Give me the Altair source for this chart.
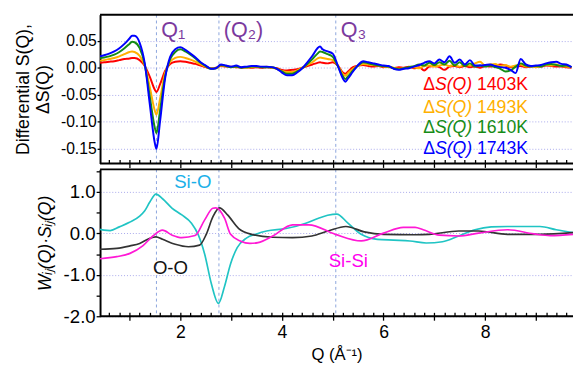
import altair as alt
import pandas as pd

# ---------------- top panel data: differential S(Q) ----------------
q_top = [0.42, 0.5, 0.6, 0.7, 0.8, 0.9, 1.0,
         1.05, 1.1, 1.2, 1.3, 1.4, 1.5, 1.53, 1.6, 1.7, 1.8, 1.9, 2.0,
         2.1, 2.2, 2.3, 2.4, 2.5, 2.6, 2.7, 2.8, 2.9, 3.0,
         3.1, 3.2, 3.3, 3.4, 3.5, 3.6, 3.7, 3.8, 3.9, 4.0,
         4.1, 4.2, 4.3, 4.4, 4.5, 4.6, 4.7, 4.75, 4.8, 4.9, 5.0,
         5.1, 5.2, 5.25, 5.3, 5.4, 5.5, 5.6, 5.7, 5.8, 5.9, 6.0,
         6.1, 6.2, 6.3, 6.4, 6.5, 6.6, 6.7, 6.8, 6.9, 7.0,
         7.1, 7.2, 7.3, 7.4, 7.5, 7.6, 7.7, 7.8, 7.9, 8.0,
         8.1, 8.2, 8.3, 8.4, 8.5, 8.6, 8.7, 8.8, 8.9, 9.0,
         9.1, 9.2, 9.3, 9.4, 9.5, 9.6, 9.7]

ds_1403 = [0.009, 0.010, 0.011, 0.012, 0.014, 0.016, 0.017,
           0.018, 0.018, 0.014, 0.003, -0.017, -0.041, -0.045, -0.031, -0.006, 0.007, 0.011, 0.012,
           0.011, 0.009, 0.007, 0.004, 0.001, -0.001, 0.000, 0.003, 0.002, 0.002,
           0.001, 0.000, 0.001, 0.000, 0.001, 0.000, 0.001, 0.000, -0.001, -0.004,
           -0.005, -0.004, -0.003, 0.000, 0.003, 0.006, 0.009, 0.010, 0.009, 0.008, 0.010,
           0.004, -0.009, -0.011, -0.007, 0.001, 0.004, 0.005, 0.003, 0.002, 0.003, 0.001,
           0.002, -0.001, 0.001, 0.000, 0.002, -0.001, 0.001, -0.005, 0.002, 0.003,
           0.001, -0.004, 0.002, 0.003, 0.001, 0.003, 0.001, 0.002, 0.000, 0.003,
           0.002, 0.004, 0.006, 0.004, 0.001, 0.002, 0.003, 0.001, 0.002, 0.003,
           0.002, 0.004, 0.003, 0.002, 0.002, 0.001, 0.000]

ds_1493 = [0.013, 0.014, 0.016, 0.018, 0.021, 0.025, 0.029,
           0.030, 0.029, 0.022, 0.004, -0.036, -0.080, -0.087, -0.058, -0.010, 0.011, 0.018, 0.020,
           0.018, 0.015, 0.011, 0.006, 0.002, -0.001, -0.001, 0.004, 0.003, 0.001,
           0.002, 0.001, 0.000, 0.001, 0.002, 0.001, 0.002, 0.000, -0.002, -0.006,
           -0.008, -0.008, -0.005, 0.000, 0.005, 0.010, 0.017, 0.019, 0.018, 0.016, 0.014,
           0.004, -0.012, -0.015, -0.010, -0.002, 0.004, 0.007, 0.006, 0.005, 0.004, 0.002,
           0.001, 0.000, -0.002, -0.001, 0.000, 0.001, -0.001, 0.003, 0.004, 0.002,
           0.004, 0.006, 0.003, 0.005, 0.002, 0.006, 0.004, 0.008, 0.011, 0.004,
           0.006, 0.007, 0.003, 0.005, 0.002, 0.004, 0.006, 0.002, 0.003, 0.001,
           0.003, 0.005, 0.004, 0.006, 0.003, 0.002, 0.001]

ds_1610 = [0.018, 0.019, 0.021, 0.024, 0.029, 0.036, 0.044,
           0.048, 0.047, 0.036, 0.006, -0.054, -0.112, -0.121, -0.080, -0.016, 0.016, 0.029, 0.034,
           0.030, 0.024, 0.017, 0.009, 0.003, -0.002, -0.001, 0.005, 0.003, 0.001,
           0.002, 0.000, 0.001, 0.002, 0.002, 0.001, 0.001, 0.001, -0.002, -0.007,
           -0.011, -0.011, -0.007, -0.001, 0.007, 0.016, 0.026, 0.030, 0.029, 0.025, 0.020,
           0.003, -0.016, -0.021, -0.016, -0.005, 0.004, 0.010, 0.008, 0.006, 0.004, 0.003,
           0.002, -0.001, -0.003, -0.001, 0.001, 0.003, 0.006, 0.004, 0.009, 0.005,
           0.010, 0.006, 0.013, 0.004, 0.010, 0.003, 0.008, 0.002, 0.004, 0.002,
           0.004, 0.001, -0.002, -0.007, -0.005, 0.002, 0.008, 0.004, 0.002, 0.003,
           0.002, 0.006, 0.007, 0.005, 0.003, 0.004, 0.001]

ds_1743 = [0.021, 0.023, 0.026, 0.030, 0.036, 0.044, 0.054,
           0.059, 0.059, 0.046, 0.008, -0.068, -0.140, -0.150, -0.100, -0.020, 0.020, 0.034, 0.038,
           0.033, 0.026, 0.019, 0.010, 0.004, -0.002, -0.001, 0.006, 0.004, 0.002,
           0.004, 0.001, 0.002, 0.003, 0.003, 0.002, 0.002, 0.001, -0.002, -0.009,
           -0.014, -0.014, -0.009, -0.001, 0.010, 0.022, 0.036, 0.039, 0.034, 0.030, 0.026,
           0.004, -0.020, -0.026, -0.020, -0.007, 0.005, 0.012, 0.010, 0.008, 0.006, 0.004,
           0.003, -0.002, -0.004, -0.002, -0.001, 0.002, 0.005, 0.009, 0.012, 0.008,
           0.015, 0.010, 0.021, 0.009, 0.015, 0.006, 0.014, 0.004, 0.004, 0.005,
           0.006, 0.003, 0.001, 0.000, -0.004, -0.010, 0.016, 0.006, 0.003, 0.004,
           0.005, 0.008, 0.010, 0.011, 0.007, 0.006, 0.001]

top_temps = ["1403K", "1493K", "1610K", "1743K"]
top_colors = ["#ff0000", "#ffb000", "#168c16", "#0000ff"]
top_series = [ds_1403, ds_1493, ds_1610, ds_1743]

# ---------------- bottom panel data: partial contributions ----------------
q_sio = [0.42, 0.5, 0.62, 0.8, 1.0, 1.2, 1.3, 1.4, 1.52, 1.65, 1.84, 2.03, 2.22, 2.35, 2.48,
         2.61, 2.75, 2.87, 2.99, 3.12, 3.3, 3.5, 3.7, 4.08, 4.47, 4.72, 4.9, 5.08, 5.3,
         5.56, 5.88, 6.2, 6.52, 6.84, 7.16, 7.48, 7.8, 8.12, 8.44, 9.08, 9.4, 9.73]
v_sio = [0.10, 0.08, 0.07, 0.16, 0.27, 0.42, 0.55, 0.76, 0.95, 0.84, 0.61, 0.45, 0.25, -0.02, -0.50,
         -1.21, -1.69, -1.28, -0.73, -0.34, -0.11, -0.01, 0.06, 0.12, 0.25, 0.37, 0.44, 0.47, 0.25,
         -0.02, -0.14, -0.16, -0.18, -0.23, -0.20, -0.06, 0.09, 0.16, 0.17, 0.17, 0.09, 0.02]

q_oo = [0.42, 0.75, 1.01, 1.2, 1.39, 1.52, 1.65, 1.9, 2.16, 2.38, 2.51, 2.64, 2.77, 2.93,
        3.15, 3.4, 3.82, 4.21, 4.59, 4.91, 5.26, 5.62, 6.0, 6.62, 6.9, 7.48, 7.87, 8.44, 9.08, 9.73]
v_oo = [-0.38, -0.36, -0.30, -0.24, -0.12, -0.08, -0.14, -0.26, -0.32, -0.28, -0.02, 0.40, 0.62, 0.45,
        0.12, -0.02, -0.09, -0.10, -0.06, 0.06, 0.17, 0.04, -0.02, -0.03, -0.02, 0.06, 0.06, -0.02, -0.02, 0.02]

q_sisi = [0.42, 0.75, 1.01, 1.26, 1.46, 1.65, 1.84, 2.03, 2.29, 2.48, 2.64, 2.70, 2.87, 2.99,
          3.18, 3.37, 3.53, 3.82, 4.21, 4.53, 5.05, 5.56, 6.0, 6.39, 6.62, 6.78, 7.10, 7.48,
          7.87, 8.44, 8.96, 9.28, 9.73]
v_sisi = [-0.61, -0.56, -0.48, -0.30, -0.06, 0.08, -0.04, -0.10, -0.05, 0.33, 0.61, 0.62, 0.37, -0.02,
          -0.18, -0.24, -0.22, -0.06, 0.21, 0.21, -0.02, -0.18, 0.01, 0.15, 0.15, 0.09, -0.04, -0.06,
          0.01, 0.09, -0.01, -0.05, -0.02]

bottom_names = ["Si-O", "O-O", "Si-Si"]
bottom_line_colors = ["#20c4c4", "#333333", "#ff19d5"]

# ---------------- annotations ----------------
q_marks = [1.53, 2.76, 5.06]
q_mark_labels = ["Q₁", "(Q₂)", "Q₃"]
q_label_y = [0.056, 0.056, 0.056]

legend_q = 6.78
legend_y = [-0.041, -0.083, -0.121, -0.159]

pair_label_q = [1.88, 1.46, 4.92]
pair_label_y = [1.11, -0.97, -0.80]
pair_label_colors = ["#1ab0e8", "#111111", "#ff00ee"]

x_ticks = [0.6, 0.8, 1.0, 1.2, 1.4, 1.6, 1.8, 2.0, 2.2, 2.4, 2.6, 2.8, 3.0, 3.2, 3.4, 3.6,
           3.8, 4.0, 4.2, 4.4, 4.6, 4.8, 5.0, 5.2, 5.4, 5.6, 5.8, 6.0, 6.2, 6.4, 6.6, 6.8,
           7.0, 7.2, 7.4, 7.6, 7.8, 8.0, 8.2, 8.4, 8.6, 8.8, 9.0, 9.2, 9.4, 9.6]
top_y_ticks = [-0.15, -0.10, -0.05, 0.0, 0.05]
bottom_y_ticks = [-2.0, -1.5, -1.0, -0.5, 0.0, 0.5, 1.0, 1.5]

X_DOMAIN = [0.42, 9.73]
TOP_DOMAIN = [-0.177, 0.098]
BOTTOM_DOMAIN = [-2.0, 1.55]
W = 483
H_TOP = 152
H_BOT = 150
FONT = "Liberation Sans"

# ---------------- tables ----------------
top_rows = []
for name, vals in zip(top_temps, top_series):
    for q, v in zip(q_top, vals):
        top_rows.append({"q": q, "v": v, "series": name})
top_df = pd.DataFrame(top_rows)

bot_rows = []
for name, qs, vs in zip(bottom_names, [q_sio, q_oo, q_sisi], [v_sio, v_oo, v_sisi]):
    for q, v in zip(qs, vs):
        bot_rows.append({"q": q, "v": v, "pair": name})
bot_df = pd.DataFrame(bot_rows)

marks_df = pd.DataFrame({"q": q_marks, "label": q_mark_labels, "y": q_label_y})
legend_df = pd.DataFrame({"q": [legend_q] * 4, "y": legend_y, "temp": top_temps, "c": top_colors})
pair_df = pd.DataFrame({"q": pair_label_q, "y": pair_label_y, "label": bottom_names, "c": pair_label_colors})

major_test = "abs(datum.value - round(datum.value)) < 0.01"
even_test = "abs(datum.value / 2 - round(datum.value / 2)) < 0.01"
tick_size = {"condition": {"test": major_test, "value": 8}, "value": 4}

x_scale = alt.Scale(domain=X_DOMAIN, nice=False, zero=False)
top_y_scale = alt.Scale(domain=TOP_DOMAIN, nice=False, zero=False)
bot_y_scale = alt.Scale(domain=BOTTOM_DOMAIN, nice=False, zero=False)

top_x_axis = alt.Axis(values=x_ticks, labels=False, title=None, domain=False, grid=False,
                      offset=-4, tickSize=tick_size, tickColor="black", tickWidth=1.3)
bot_x_axis = alt.Axis(values=x_ticks, domain=False, grid=False, offset=-4,
                      tickSize=tick_size, tickColor="black", tickWidth=1.3,
                      labelOverlap=False, labelFlush=False,
                      labelExpr=even_test + " ? format(datum.value, '.0f') : ''",
                      labelFontSize=18, labelPadding=4, labelColor="black",
                      title="Q (Å⁻¹)", titleFontSize=17, titleFontWeight="normal", titlePadding=5,
                      titleColor="black")

top_y_axis = alt.Axis(values=top_y_ticks, labelOverlap=False,
                      labelExpr="replace(format(datum.value, '.2f'), '−', '-')",
                      domain=True, domainColor="black", domainWidth=2, tickColor="black",
                      tickSize=3, tickWidth=1.3, labelFontSize=16, labelPadding=1, labelColor="black",
                      grid=True, gridColor="#a8a8ec", gridDash=[1, 2], gridWidth=1,
                      title=["Differential S(Q),", "ΔS(Q)"], titleFontSize=18,
                      titleFontWeight="normal", titleLineHeight=21, titlePadding=8, titleColor="black")
bot_y_axis = alt.Axis(values=bottom_y_ticks, labelOverlap=False,
                      labelExpr="abs(datum.value - round(datum.value)) > 0.01 ? '' : replace(format(datum.value, '.1f'), '−', '-')",
                      domain=True, domainColor="black", domainWidth=2, tickColor="black",
                      tickSize=4, tickWidth=1.3, labelFontSize=19, labelPadding=1, labelColor="black",
                      grid=True, gridColor="#a8a8ec", gridDash=[1, 2], gridWidth=1,
                      gridOpacity={"condition": {"test": "abs(datum.value - round(datum.value)) > 0.01", "value": 0}, "value": 1},
                      title="Wᵢⱼ(Q)·Sᵢⱼ(Q)", titleFontSize=18, titleFontWeight="normal",
                      titleFontStyle="italic", titlePadding=9, titleColor="black")

one = alt.Data(values=[{"a": 1}])

def frame(h):
    top_edge = alt.Chart(one).mark_rule(color="black", strokeWidth=2).encode(
        x=alt.value(0), x2=alt.value(W), y=alt.value(0))
    bottom_edge = alt.Chart(one).mark_rule(color="black", strokeWidth=2).encode(
        x=alt.value(0), x2=alt.value(W), y=alt.value(h))
    return top_edge + bottom_edge

# every layer of a panel carries the same axis definition so nothing is merged away
tx = lambda f: alt.X(f, scale=x_scale, axis=top_x_axis)
ty = lambda f: alt.Y(f, scale=top_y_scale, axis=top_y_axis)
bx = lambda f: alt.X(f, scale=x_scale, axis=bot_x_axis)
by = lambda f: alt.Y(f, scale=bot_y_scale, axis=bot_y_axis)

# ---------------- top panel ----------------
top_lines = alt.Chart(top_df).mark_line(strokeWidth=2, interpolate="monotone", clip=True).encode(
    x=tx("q:Q"), y=ty("v:Q"),
    color=alt.Color("series:N", scale=alt.Scale(domain=top_temps, range=top_colors), legend=None),
)
top_vrules = alt.Chart(marks_df).mark_rule(color="#8aa4dc", strokeDash=[3, 3], strokeWidth=1).encode(
    x=tx("q:Q"))
top_qlabels = alt.Chart(marks_df).mark_text(
    align="left", baseline="alphabetic", dx=5, fontSize=22, color="#7b3a9e", font=FONT
).encode(x=tx("q:Q"), y=ty("y:Q"), text="label:N")

leg_base = alt.Chart(legend_df).encode(
    x=tx("q:Q"), y=ty("y:Q"), color=alt.Color("c:N", scale=None))
leg_delta = leg_base.mark_text(align="left", baseline="alphabetic", fontSize=18, font=FONT,
                               text="Δ")
leg_sq = leg_base.mark_text(align="left", baseline="alphabetic", fontSize=18, font=FONT,
                            fontStyle="italic", dx=12, text="S(Q)")
leg_temp = leg_base.mark_text(align="left", baseline="alphabetic", fontSize=18, font=FONT,
                              dx=55).encode(text="temp:N")

top = alt.layer(top_vrules, top_lines, top_qlabels, leg_delta, leg_sq, leg_temp,
                frame(H_TOP)).properties(width=W, height=H_TOP)

# ---------------- bottom panel ----------------
bot_lines = alt.Chart(bot_df).mark_line(strokeWidth=1.7, interpolate="monotone", clip=True).encode(
    x=bx("q:Q"), y=by("v:Q"),
    color=alt.Color("pair:N", scale=alt.Scale(domain=bottom_names, range=bottom_line_colors), legend=None),
)
bot_vrules = alt.Chart(marks_df).mark_rule(color="#8aa4dc", strokeDash=[3, 3], strokeWidth=1).encode(
    x=bx("q:Q"))
bot_labels = alt.Chart(pair_df).mark_text(
    align="left", baseline="alphabetic", fontSize=19, font=FONT
).encode(x=bx("q:Q"), y=by("y:Q"), text="label:N",
         color=alt.Color("c:N", scale=None))

bottom = alt.layer(bot_vrules, bot_lines, bot_labels, frame(H_BOT)).properties(
    width=W, height=H_BOT)

chart = alt.vconcat(top, bottom, spacing=6, bounds="flush").resolve_scale(
    color="independent", y="independent"
).configure(
    font=FONT, padding={"left": 6, "top": 2, "right": 0, "bottom": 0}
).configure_axis(labelOverlap=False).configure_view(stroke=None)

chart.save("out.html", embed_options={"renderer": "svg", "actions": False})
